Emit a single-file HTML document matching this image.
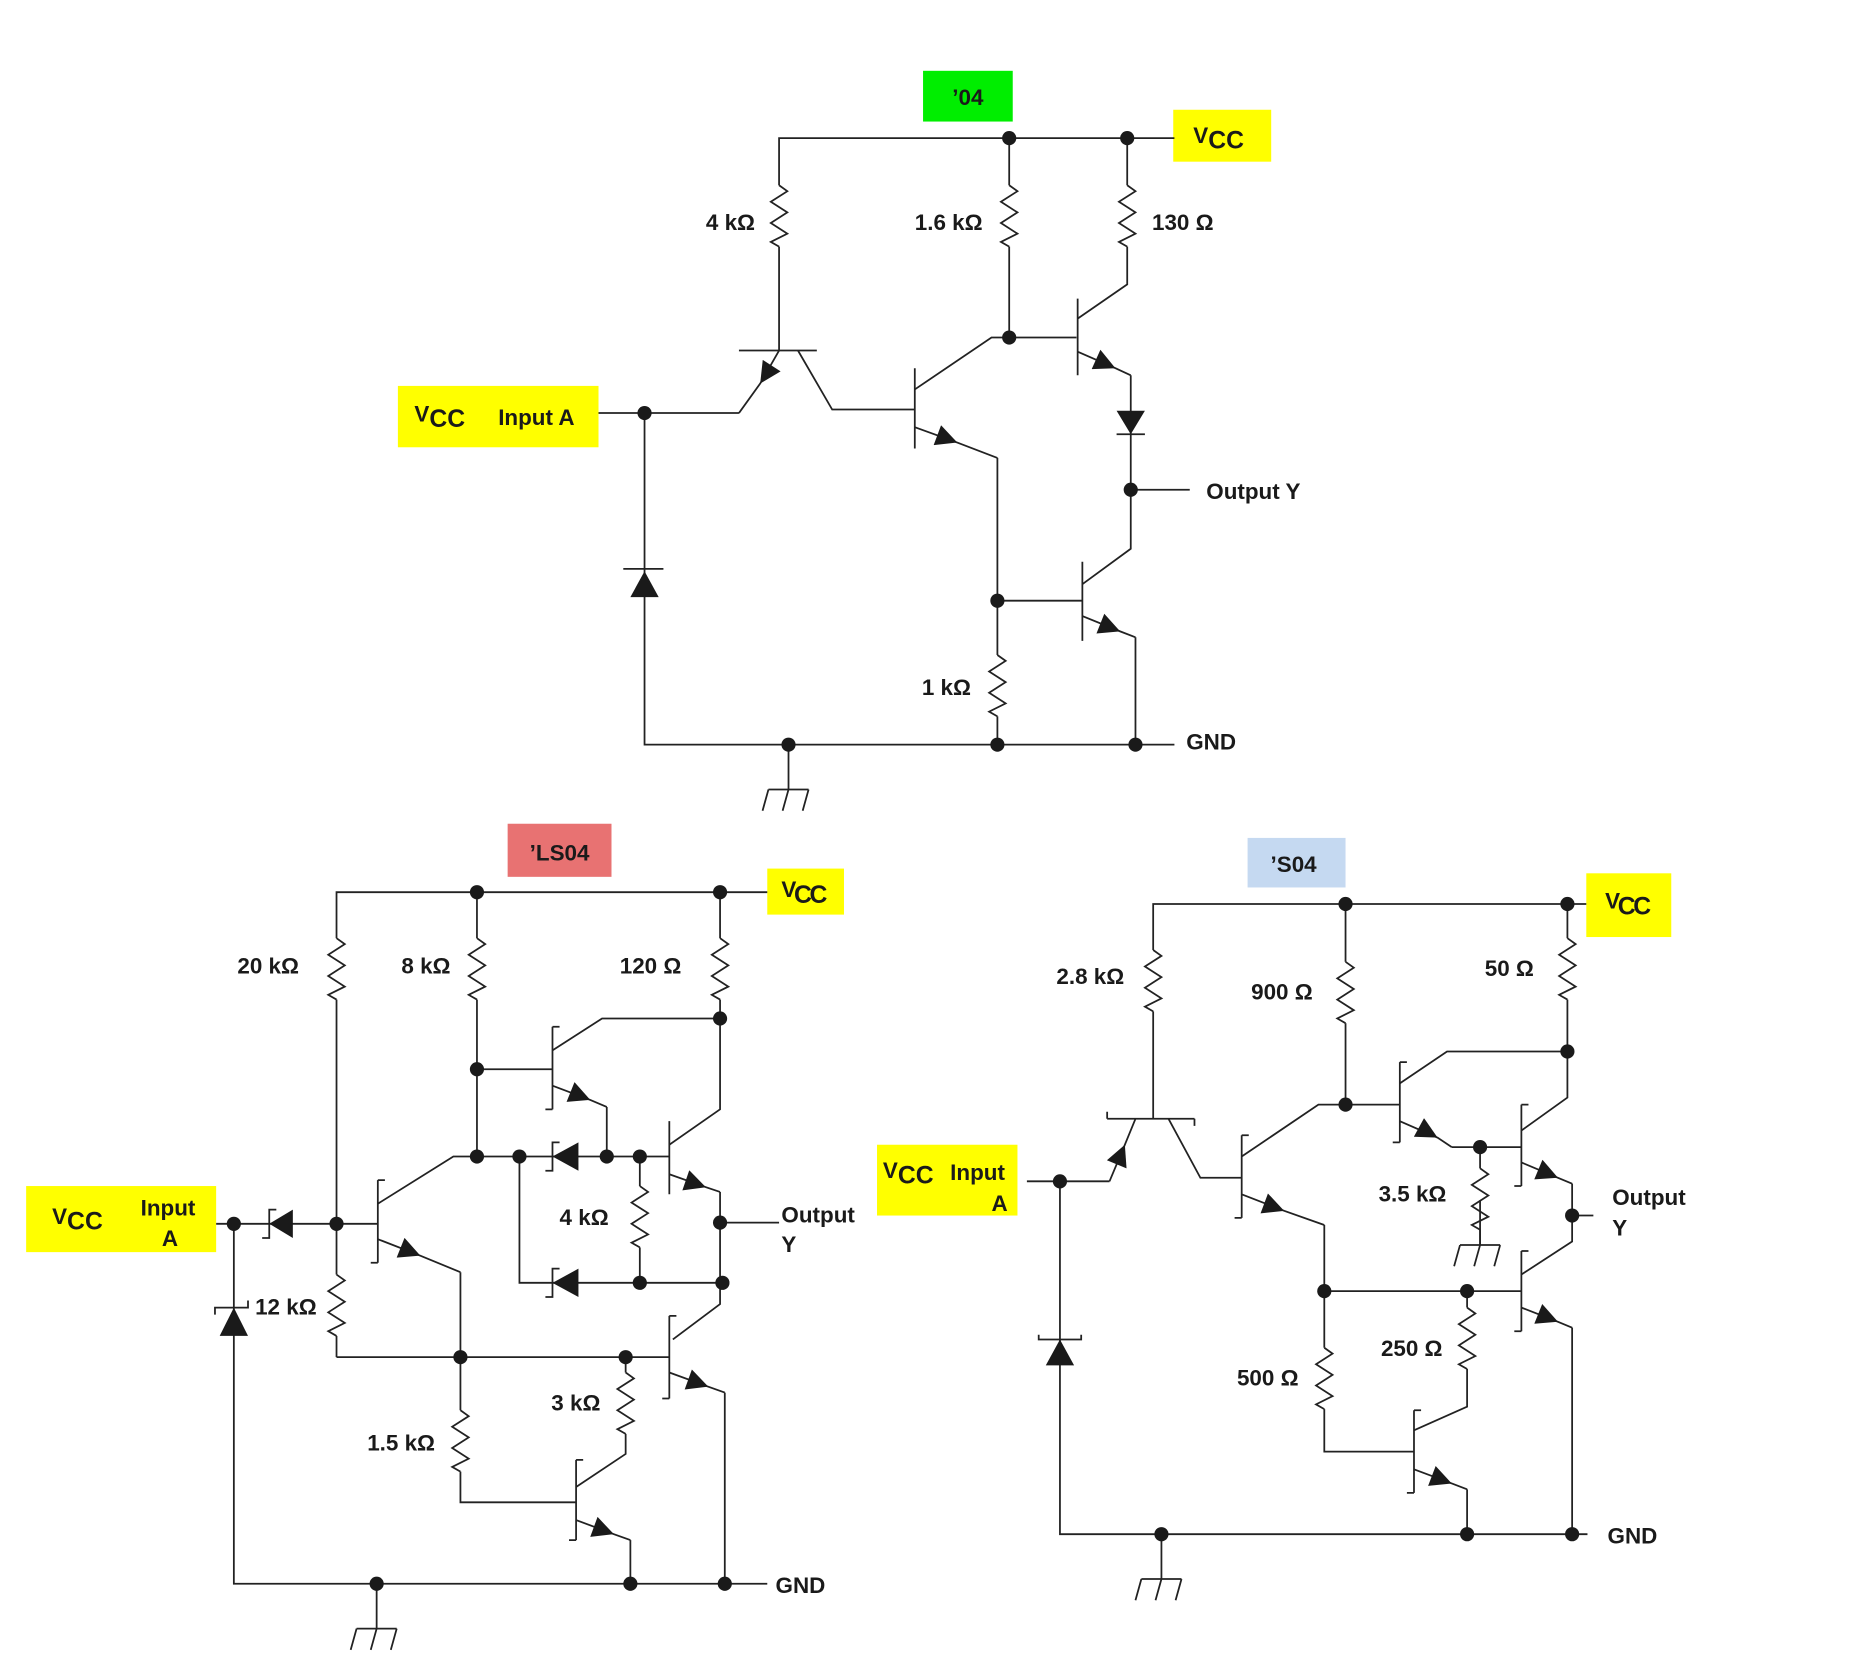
<!DOCTYPE html>
<html><head><meta charset="utf-8"><style>
html,body{margin:0;padding:0;background:#fff;}
svg{display:block;}
text{font-family:"Liberation Sans",Arial,sans-serif;font-weight:bold;font-size:19px;fill:#1a1a1a;}
</style></head><body>
<svg width="1852" height="1664" viewBox="0 0 1569 1410" xmlns="http://www.w3.org/2000/svg">
<defs>
<marker id="ar" viewBox="0 0 10 10" refX="10" refY="5" markerWidth="22" markerHeight="18" markerUnits="userSpaceOnUse" orient="auto"><path d="M0,0 L10,5 L0,10 z" fill="#1a1a1a"/></marker>
<g id="rz"><rect x="-2" y="0" width="4" height="52" fill="#fff" stroke="none"/><path d="M0,0 L7,5 L-7,14 L7,23 L-7,32 L7,41 L-7,48 L0,52" fill="none" stroke="#222" stroke-width="1.5"/></g>
<g id="gnd" fill="none" stroke="#222" stroke-width="1.5"><path d="M0,0 L0,38 M-17,38 L17,38 M-17,38 L-22,56 M0,38 L-5,56 M17,38 L12,56"/></g>
</defs>
<!-- boxes -->
<rect x="782" y="60" width="76" height="43" fill="#00ee00"/>
<text x="820" y="89" text-anchor="middle">’04</text>
<rect x="994" y="93" width="83" height="44" fill="#ffff00"/>
<text x="1011" y="121">V<tspan font-size="21" dy="5">CC</tspan></text>
<rect x="337" y="327" width="170" height="52" fill="#ffff00"/>
<text x="351" y="357">V<tspan font-size="21" dy="5">CC</tspan></text>
<text x="422" y="360">Input A</text>
<rect x="430" y="698" width="88" height="45" fill="#e87272"/>
<text x="474" y="729" text-anchor="middle">’LS04</text>
<rect x="650" y="736" width="65" height="39" fill="#ffff00"/>
<text x="662" y="760" letter-spacing="-2">V<tspan font-size="21" dy="5">CC</tspan></text>
<rect x="22" y="1005" width="161" height="56" fill="#ffff00"/>
<text x="44" y="1037">V<tspan font-size="21" dy="5">CC</tspan></text>
<text x="119" y="1030">Input</text>
<text x="137" y="1056">A</text>
<rect x="1057" y="710" width="83" height="42" fill="#c5d9f1"/>
<text x="1096" y="739" text-anchor="middle">’S04</text>
<rect x="1344" y="740" width="72" height="54" fill="#ffff00"/>
<text x="1360" y="770" letter-spacing="-2">V<tspan font-size="21" dy="5">CC</tspan></text>
<rect x="743" y="970" width="119" height="60" fill="#ffff00"/>
<text x="748" y="998">V<tspan font-size="21" dy="5">CC</tspan></text>
<text x="805" y="1000">Input</text>
<text x="840" y="1026">A</text>

<g fill="none" stroke="#222" stroke-width="1.5">
<!-- ===== '04 ===== -->
<path d="M660,297 L660,117 L995,117"/>
<path d="M855,117 L855,286 L912,286"/>
<path d="M955,117 L955,241 L913,270"/>
<path d="M626,297 L692,297"/>
<polyline points="660,297 644,325 626,350" marker-mid="url(#ar)"/>
<path d="M507,350 L626,350"/>
<path d="M676,297 L705,347 L775,347"/>
<path d="M775,312 L775,380"/>
<path d="M775,330 L840,286 L855,286"/>
<polyline points="775,362 811,375 845,388" marker-mid="url(#ar)"/>
<path d="M845,388 L845,631"/>
<path d="M913,253 L913,318"/>
<polyline points="913,298 945,312 958,318" marker-mid="url(#ar)"/>
<path d="M958,318 L958,465 L917,495"/>
<path d="M958,415 L1008,415"/>
<path d="M917,476 L917,543"/>
<path d="M845,509 L917,509"/>
<polyline points="917,522 949,535 962,540" marker-mid="url(#ar)"/>
<path d="M962,540 L962,631 L995,631"/>
<path d="M546,350 L546,631 L962,631"/>
<path d="M946,368 L970,368 M528,482 L562,482"/>
<!-- ===== LS04 ===== -->
<path d="M285,1150 L285,756 L650,756"/>
<path d="M404,756 L404,980"/>
<path d="M404,906 L468,906"/>
<path d="M468,870 L468,940 M468,870 L474,870 M468,940 L462,940"/>
<path d="M468,890 L510,863 L610,863"/>
<path d="M610,756 L610,940 L567,970"/>
<polyline points="468,920 500,932 514,938" marker-mid="url(#ar)"/>
<path d="M514,938 L514,980"/>
<path d="M320,1020 L384,980 L567,980"/>
<path d="M567,950 L567,1012"/>
<polyline points="567,995 598,1006 610,1010" marker-mid="url(#ar)"/>
<path d="M610,1010 L610,1105 L570,1135"/>
<path d="M610,1036 L660,1036"/>
<path d="M542,980 L542,1087"/>
<path d="M440,980 L440,1087 L612,1087"/>
<path d="M183,1037 L320,1037"/>
<path d="M320,1000 L320,1070 M320,1000 L326,1000 M320,1070 L314,1070"/>
<polyline points="320,1050 356,1064 390,1078" marker-mid="url(#ar)"/>
<path d="M390,1078 L390,1273 L488,1273"/>
<path d="M285,1150 L567,1150"/>
<path d="M567,1115 L567,1185 M567,1115 L573,1115 M567,1185 L561,1185"/>
<polyline points="567,1163 600,1175 614,1180" marker-mid="url(#ar)"/>
<path d="M614,1180 L614,1342 L650,1342"/>
<path d="M530,1150 L530,1232 L488,1260"/>
<path d="M488,1237 L488,1305 M488,1237 L494,1237 M488,1305 L482,1305"/>
<polyline points="488,1288 520,1300 534,1305" marker-mid="url(#ar)"/>
<path d="M534,1305 L534,1342"/>
<path d="M198,1037 L198,1342 L614,1342"/>
<path d="M234,1025 L228,1025 L228,1049 L222,1049"/>
<path d="M474,968 L468,968 L468,992 L462,992"/>
<path d="M474,1075 L468,1075 L468,1099 L462,1099"/>
<path d="M182,1114 L182,1108 L210,1108 L210,1102"/>
<!-- ===== S04 ===== -->
<path d="M977,948 L977,766 L1344,766"/>
<path d="M938,948 L1012,948 M938,948 L938,942 M1012,948 L1012,954"/>
<path d="M870,1001 L940,1001"/>
<polyline points="940,1001 953,970 962,948" marker-mid="url(#ar)"/>
<path d="M990,948 L1017,998 L1052,998"/>
<path d="M1052,962 L1052,1032 M1052,962 L1058,962 M1052,1032 L1046,1032"/>
<path d="M1052,980 L1117,936 L1186,936"/>
<polyline points="1052,1012 1088,1026 1122,1038" marker-mid="url(#ar)"/>
<path d="M1122,1038 L1122,1230 L1198,1230"/>
<path d="M1140,766 L1140,936"/>
<path d="M1186,900 L1186,968 M1186,900 L1192,900 M1186,968 L1180,968"/>
<path d="M1186,918 L1226,891 L1328,891"/>
<polyline points="1186,950 1218,964 1230,972" marker-mid="url(#ar)"/>
<path d="M1230,972 L1289,972"/>
<path d="M1328,766 L1328,930 L1289,958"/>
<path d="M1289,936 L1289,1005 M1289,936 L1295,936 M1289,1005 L1283,1005"/>
<polyline points="1289,985 1320,998 1332,1003" marker-mid="url(#ar)"/>
<path d="M1332,1003 L1332,1052 L1289,1080"/>
<path d="M1332,1030 L1350,1030"/>
<path d="M1254,972 L1254,1055"/>
<path d="M1122,1094 L1289,1094"/>
<path d="M1289,1060 L1289,1128 M1289,1060 L1295,1060 M1289,1128 L1283,1128"/>
<polyline points="1289,1108 1320,1120 1332,1125" marker-mid="url(#ar)"/>
<path d="M1332,1125 L1332,1300 L1345,1300"/>
<path d="M1243,1094 L1243,1192 L1198,1212"/>
<path d="M1198,1195 L1198,1265 M1198,1195 L1204,1195 M1198,1265 L1192,1265"/>
<polyline points="1198,1245 1230,1257 1243,1262" marker-mid="url(#ar)"/>
<path d="M1243,1262 L1243,1300"/>
<path d="M898,1001 L898,1300 L1332,1300"/>
<path d="M880,1131 L880,1135 L916,1135 L916,1131"/>
</g>
<g fill="#1a1a1a">
<polygon points="946,348 970,348 958,368"/>
<polygon points="534,506 558,506 546,484"/>
<polygon points="228,1037 248,1025 248,1049"/>
<polygon points="468,980 490,968 490,992"/>
<polygon points="468,1087 490,1075 490,1099"/>
<polygon points="198,1108 186,1132 210,1132"/>
<polygon points="898,1135 886,1157 910,1157"/>
</g>
<use href="#rz" x="660" y="157"/>
<use href="#rz" x="855" y="157"/>
<use href="#rz" x="955" y="157"/>
<use href="#rz" x="845" y="555"/>
<use href="#rz" x="285" y="795"/>
<use href="#rz" x="404" y="795"/>
<use href="#rz" x="610" y="795"/>
<use href="#rz" x="542" y="1005"/>
<use href="#rz" x="285" y="1080"/>
<use href="#rz" x="390" y="1195"/>
<use href="#rz" x="530" y="1163"/>
<use href="#rz" x="977" y="805"/>
<use href="#rz" x="1140" y="815"/>
<use href="#rz" x="1328" y="795"/>
<use href="#rz" x="1254" y="990"/>
<use href="#rz" x="1122" y="1142"/>
<use href="#rz" x="1243" y="1108"/>
<use href="#gnd" x="668" y="631"/>
<use href="#gnd" x="319" y="1342"/>
<use href="#gnd" x="984" y="1300"/>
<use href="#gnd" x="1254" y="1017"/>
<g fill="#1a1a1a">
<circle cx="855" cy="117" r="6"/><circle cx="955" cy="117" r="6"/><circle cx="546" cy="350" r="6"/>
<circle cx="855" cy="286" r="6"/><circle cx="958" cy="415" r="6"/><circle cx="845" cy="509" r="6"/>
<circle cx="668" cy="631" r="6"/><circle cx="845" cy="631" r="6"/><circle cx="962" cy="631" r="6"/>
<circle cx="404" cy="756" r="6"/><circle cx="610" cy="756" r="6"/><circle cx="610" cy="863" r="6"/>
<circle cx="404" cy="906" r="6"/><circle cx="404" cy="980" r="6"/><circle cx="440" cy="980" r="6"/>
<circle cx="514" cy="980" r="6"/><circle cx="542" cy="980" r="6"/><circle cx="610" cy="1036" r="6"/>
<circle cx="542" cy="1087" r="6"/><circle cx="612" cy="1087" r="6"/><circle cx="198" cy="1037" r="6"/>
<circle cx="285" cy="1037" r="6"/><circle cx="390" cy="1150" r="6"/><circle cx="530" cy="1150" r="6"/>
<circle cx="319" cy="1342" r="6"/><circle cx="534" cy="1342" r="6"/><circle cx="614" cy="1342" r="6"/>
<circle cx="1140" cy="766" r="6"/><circle cx="1328" cy="766" r="6"/><circle cx="1328" cy="891" r="6"/>
<circle cx="1140" cy="936" r="6"/><circle cx="1254" cy="972" r="6"/><circle cx="898" cy="1001" r="6"/>
<circle cx="1332" cy="1030" r="6"/><circle cx="1122" cy="1094" r="6"/><circle cx="1243" cy="1094" r="6"/>
<circle cx="984" cy="1300" r="6"/><circle cx="1243" cy="1300" r="6"/><circle cx="1332" cy="1300" r="6"/>
</g>
<text x="598" y="195">4 kΩ</text>
<text x="775" y="195">1.6 kΩ</text>
<text x="976" y="195">130 Ω</text>
<text x="1022" y="423">Output Y</text>
<text x="781" y="589">1 kΩ</text>
<text x="1005" y="635">GND</text>
<text x="201" y="825">20 kΩ</text>
<text x="340" y="825">8 kΩ</text>
<text x="525" y="825">120 Ω</text>
<text x="474" y="1038">4 kΩ</text>
<text x="662" y="1036">Output</text>
<text x="662" y="1061">Y</text>
<text x="216" y="1114">12 kΩ</text>
<text x="467" y="1195">3 kΩ</text>
<text x="311" y="1229">1.5 kΩ</text>
<text x="657" y="1350">GND</text>
<text x="895" y="834">2.8 kΩ</text>
<text x="1060" y="847">900 Ω</text>
<text x="1258" y="827">50 Ω</text>
<text x="1168" y="1018">3.5 kΩ</text>
<text x="1366" y="1021">Output</text>
<text x="1366" y="1047">Y</text>
<text x="1170" y="1149">250 Ω</text>
<text x="1048" y="1174">500 Ω</text>
<text x="1362" y="1308">GND</text>
</svg>
</body></html>
